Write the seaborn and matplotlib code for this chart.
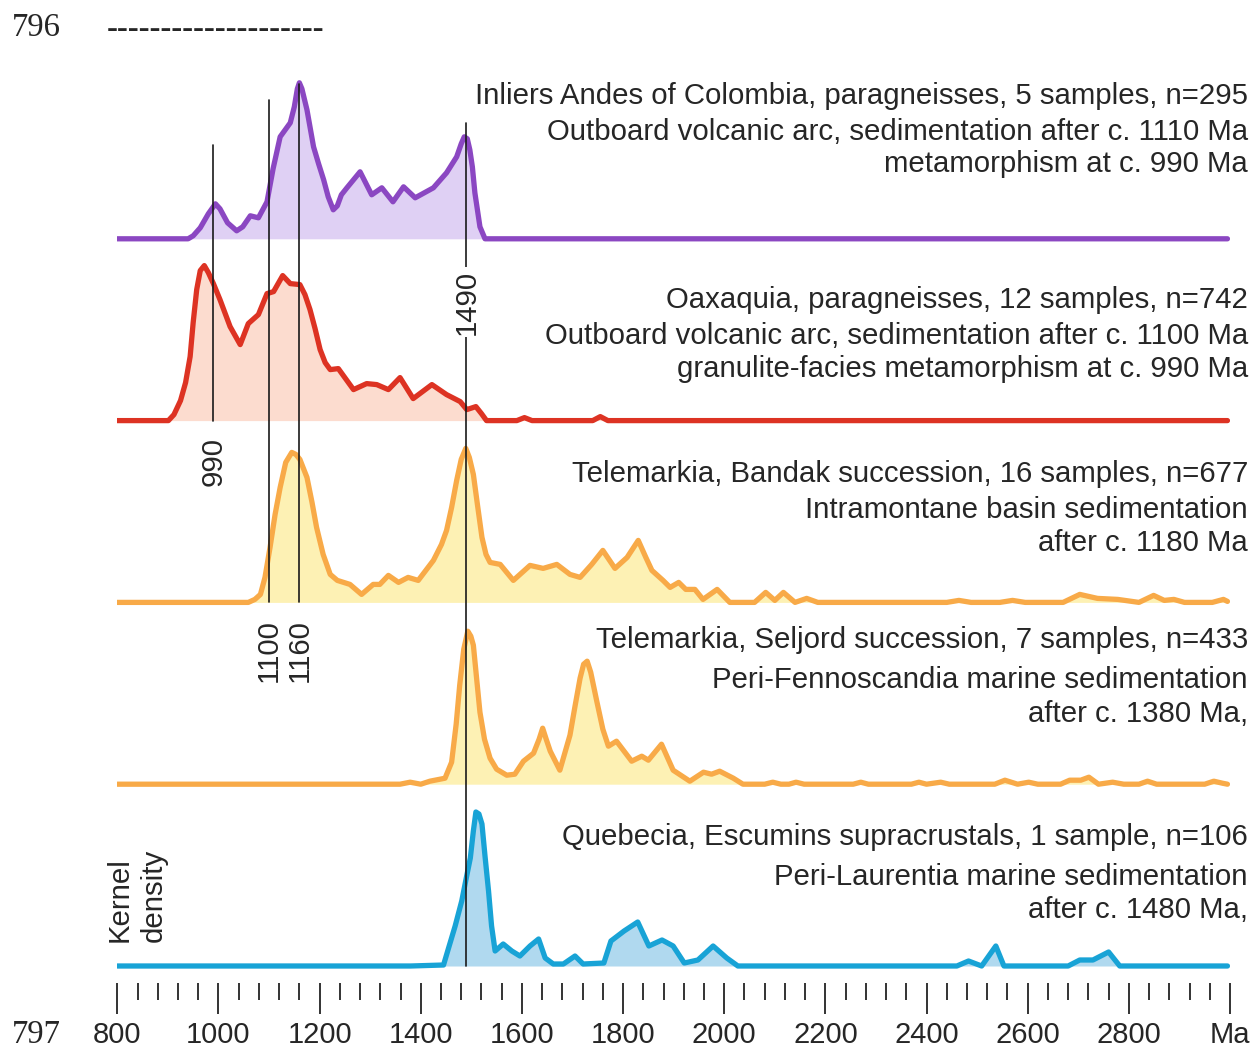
import numpy as np
import pandas as pd
import matplotlib
matplotlib.use("Agg")
import matplotlib.pyplot as plt
import seaborn as sns

# ---------------- data (ages in Ma, relative kernel density) ----------------
inliers_age = [800, 940, 950, 964, 980, 994, 1003, 1018, 1036, 1048, 1063, 1079, 1096, 1108,
               1122, 1142, 1150, 1156, 1160, 1165, 1175, 1188, 1198, 1208, 1217, 1227, 1235,
               1243, 1254, 1280, 1303, 1323, 1345, 1366, 1389, 1425, 1451, 1471, 1480, 1486,
               1492, 1497, 1502, 1507, 1517, 1527, 2995]
inliers_den = [0, 0, 3, 11, 25, 35, 30, 16, 8, 12, 23, 21, 37, 70,
               102, 116, 132, 150, 156, 150, 129, 92, 75, 59, 42, 29, 33,
               44, 51, 67, 44, 51, 37, 52, 41, 51, 66, 82, 95, 102,
               100, 89, 72, 46, 12, 0, 0]

oaxaquia_age = [800, 901, 912, 925, 935, 944, 950, 957, 964, 972, 980, 990, 1003, 1023, 1043,
                1059, 1079, 1096, 1109, 1127, 1142, 1161, 1171, 1181, 1191, 1201, 1211, 1221,
                1237, 1267, 1293, 1313, 1336, 1359, 1385, 1422, 1451, 1478, 1491, 1509, 1520,
                1530, 1590, 1605, 1620, 1740, 1755, 1770, 2995]
oaxaquia_den = [0, 0, 6, 20, 38, 64, 98, 131, 150, 155, 148, 137, 121, 94, 76,
                97, 106, 127, 129, 145, 137, 136, 126, 111, 92, 71, 58, 51,
                52, 31, 37, 36, 31, 43, 22, 36, 26, 19, 11, 14, 7,
                0, 0, 3, 0, 0, 4, 0, 0]

bandak_age = [800, 1059, 1072, 1083, 1092, 1102, 1112, 1122, 1133, 1145, 1153, 1161, 1175,
              1185, 1194, 1207, 1221, 1235, 1260, 1283, 1306, 1319, 1336, 1356, 1375, 1395,
              1425, 1441, 1451, 1461, 1471, 1480, 1489, 1496, 1504, 1512, 1521, 1529, 1537,
              1557, 1583, 1616, 1642, 1669, 1695, 1715, 1738, 1760, 1784, 1808, 1830, 1845,
              1857, 1879, 1893, 1910, 1924, 1942, 1958, 1986, 2011, 2060, 2082, 2100, 2117,
              2140, 2163, 2185, 2440, 2464, 2488, 2545, 2570, 2595, 2670, 2703, 2738, 2778,
              2820, 2849, 2870, 2889, 2910, 2965, 2987, 2995]
bandak_den = [0, 0, 3, 8, 25, 55, 88, 115, 140, 150, 148, 143, 125,
              100, 75, 48, 28, 22, 18, 8, 18, 18, 27, 20, 25, 22,
              42, 58, 72, 95, 122, 143, 154, 145, 128, 98, 65, 48, 40,
              38, 22, 37, 34, 38, 28, 25, 38, 52, 34, 45, 62, 45,
              32, 22, 15, 20, 13, 13, 3, 13, 0, 0, 10, 2, 10,
              0, 4, 0, 0, 2, 0, 0, 2, 0, 0, 8, 4, 3,
              0, 7, 2, 3, 0, 0, 3, 1]

seljord_age = [800, 1359, 1379, 1400, 1418, 1448, 1461, 1470, 1477, 1485, 1493, 1499, 1504,
               1510, 1517, 1526, 1537, 1550, 1570, 1586, 1603, 1623, 1634, 1641, 1648, 1656,
               1675, 1695, 1705, 1715, 1722, 1729, 1736, 1748, 1760, 1771, 1787, 1817, 1837,
               1850, 1876, 1899, 1932, 1959, 1975, 1991, 2018, 2037, 2080, 2096, 2112, 2128,
               2142, 2158, 2255, 2270, 2285, 2370, 2385, 2400, 2428, 2445, 2535, 2555, 2580,
               2602, 2620, 2665, 2683, 2705, 2721, 2740, 2768, 2790, 2820, 2837, 2855, 2950,
               2968, 2985, 2995]
seljord_den = [0, 0, 2, 0, 3, 6, 22, 60, 99, 135, 153, 148, 139,
               108, 72, 45, 26, 15, 9, 10, 23, 31, 45, 56, 45, 33,
               14, 49, 78, 106, 120, 123, 112, 83, 55, 38, 43, 23, 28,
               24, 40, 14, 3, 12, 10, 13, 6, 0, 0, 2, 0, 0,
               2, 0, 0, 2, 0, 0, 2, 0, 2, 0, 0, 4, 0,
               2, 0, 0, 4, 4, 7, 0, 2, 0, 0, 3, 0, 0,
               3, 1, 0]

quebecia_age = [800, 1380, 1445, 1455, 1468, 1481, 1490, 1498, 1504, 1509, 1515, 1521, 1527,
                1534, 1540, 1547, 1563, 1580, 1596, 1616, 1633, 1646, 1662, 1682, 1705, 1721,
                1762, 1776, 1802, 1829, 1851, 1877, 1899, 1921, 1948, 1978, 2005, 2027, 2460,
                2483, 2509, 2537, 2553, 2680, 2703, 2729, 2760, 2782, 2995]
quebecia_den = [0, 0, 1, 18, 40, 65, 88, 108, 135, 154, 152, 142, 110,
                75, 40, 15, 22, 15, 10, 20, 27, 8, 2, 2, 10, 2,
                3, 25, 35, 44, 20, 26, 20, 3, 6, 20, 8, 0, 0,
                5, 0, 20, 0, 0, 6, 6, 14, 0, 0]

series_labels = [
    ["Quebecia, Escumins supracrustals, 1 sample, n=106",
     "Peri-Laurentia marine sedimentation",
     "after c. 1480 Ma,"],
    ["Telemarkia, Seljord succession, 7 samples, n=433",
     "Peri-Fennoscandia marine sedimentation",
     "after c. 1380 Ma,"],
    ["Telemarkia, Bandak succession, 16 samples, n=677",
     "Intramontane basin sedimentation",
     "after c. 1180 Ma"],
    ["Oaxaquia, paragneisses, 12 samples, n=742",
     "Outboard volcanic arc, sedimentation after c. 1100 Ma",
     "granulite-facies metamorphism at c. 990 Ma"],
    ["Inliers Andes of Colombia, paragneisses, 5 samples, n=295",
     "Outboard volcanic arc, sedimentation after c. 1110 Ma",
     "metamorphism at c. 990 Ma"],
]

marker_ages = [990, 1100, 1160, 1490]
tick_values = list(range(800, 3001, 200))
tick_labels = [str(v) for v in range(800, 2801, 200)] + ["Ma"]

# ---------------- styling ----------------
sns.set_style("white")
plt.rcParams["font.family"] = ["Liberation Sans", "DejaVu Sans"]

W, H = 1252, 1049
fig = plt.figure(figsize=(W / 100, H / 100), dpi=100)
fig.patch.set_facecolor("white")

ax_left, ax_right, ax_bottom, ax_top = 117.3, 1230.0, 983.0, 40.0
ax = fig.add_axes([ax_left / W, 1 - ax_bottom / H, (ax_right - ax_left) / W, (ax_bottom - ax_top) / H])
ax.set_xlim(800, 3000)
ax.set_ylim(0, ax_bottom - ax_top)


def dy(ypx):
    return ax_bottom - ypx


spacing = 181.8
base0 = 17.0
offsets = [base0 + i * spacing for i in range(5)]

series = [
    (quebecia_age, quebecia_den, "#18a3d6", "#b0d9ef"),
    (seljord_age, seljord_den, "#f8aa48", "#fdf1b4"),
    (bandak_age, bandak_den, "#f8aa48", "#fdf1b4"),
    (oaxaquia_age, oaxaquia_den, "#dd3323", "#fcdccf"),
    (inliers_age, inliers_den, "#8b47c2", "#dfd0f4"),
]

for (ages, den, lc, fc), off in zip(series, offsets):
    assert len(ages) == len(den)
    a = np.array(ages, float)
    d = np.array(den, float)
    ax.fill_between(a, off, off + d, color=fc, lw=0, zorder=2)
    df = pd.DataFrame({"age": a, "y": off + d})
    sns.lineplot(data=df, x="age", y="y", ax=ax, color=lc, lw=3.8, sort=False,
                 estimator=None, zorder=3, solid_capstyle="round", solid_joinstyle="round")

# vertical marker lines
vl = dict(color="#1a1a1a", lw=1.2, zorder=4)
ax.plot([marker_ages[0]] * 2, [offsets[3], dy(145)], **vl)
ax.plot([marker_ages[1]] * 2, [offsets[2], dy(100)], **vl)
ax.plot([marker_ages[2]] * 2, [offsets[2], dy(84)], **vl)
ax.plot([marker_ages[3]] * 2, [offsets[0], dy(123)], **vl)

lab = dict(rotation=90, ha="center", va="center", fontsize=21.2, zorder=5)
ax.text(marker_ages[0], dy(462), str(marker_ages[0]), **lab)
ax.text(marker_ages[1], dy(651), str(marker_ages[1]), **lab)
ax.text(marker_ages[2], dy(651), str(marker_ages[2]), **lab)
ax.text(marker_ages[3], dy(302), str(marker_ages[3]),
        bbox=dict(facecolor="white", edgecolor="none", pad=1.5), **lab)

# axis
ax.set_xticks(tick_values)
ax.set_xticklabels(tick_labels)
ax.set_xticks(list(range(800, 3001, 40)), minor=True)
ax.tick_params(axis="x", which="major", bottom=True, direction="out", length=22.5, width=1.4,
               color="#333333", pad=5, labelsize=21)
ax.tick_params(axis="x", which="minor", bottom=True, direction="out", length=12, width=1.4,
               color="#333333")
ax.set_yticks([])
ax.set_xlabel("")
ax.set_ylabel("")
for s in ax.spines.values():
    s.set_visible(False)

# descriptive texts
text_rows = [[837, 877, 910], [640, 680, 714], [474, 510, 543], [300, 336, 369], [96, 132, 164]]
for lines, rows in zip(series_labels, text_rows):
    for s, ypx in zip(lines, rows):
        fig.text(1248 / W, 1 - ypx / H, s, ha="right", va="center", fontsize=21.2)

fig.text(120 / W, 1 - 942 / H, "Kernel", rotation=90, ha="center", va="bottom", fontsize=21.2)
fig.text(154 / W, 1 - 942 / H, "density", rotation=90, ha="center", va="bottom", fontsize=21.2)

fig.text(12 / W, 1 - 28 / H, "796", family="Liberation Serif", fontsize=23.5, ha="left", va="center")
fig.text(107 / W, 1 - 30 / H, "-" * 20, family="Liberation Serif", fontsize=23.5, ha="left", va="center")
fig.text(12 / W, 1 - 1035 / H, "797", family="Liberation Serif", fontsize=23.5, ha="left", va="center")

fig.savefig("out.png", dpi=100, facecolor="white")
